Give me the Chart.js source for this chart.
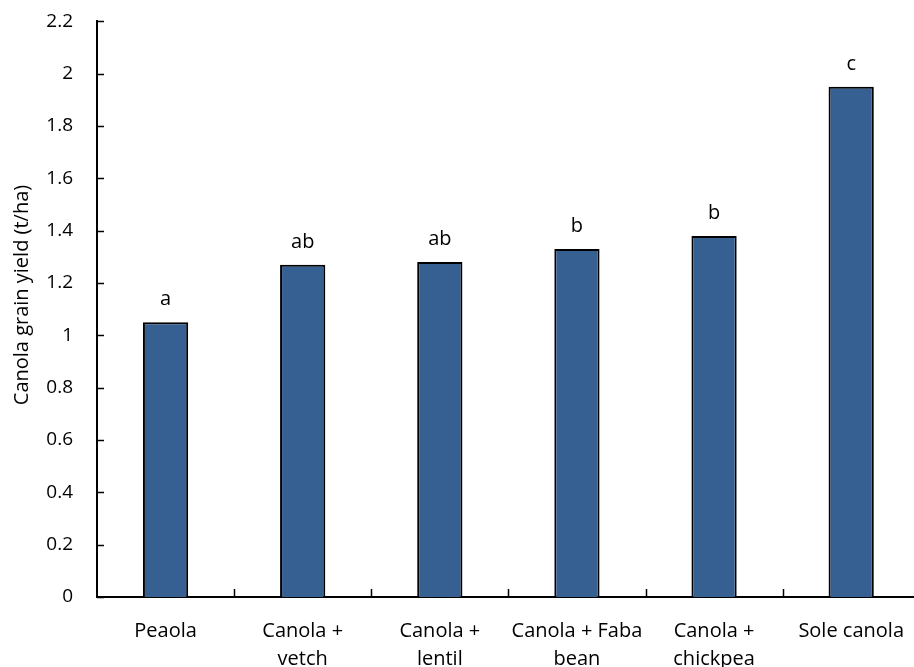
<!DOCTYPE html>
<html>
<head>
<meta charset="utf-8">
<script src="https://cdn.jsdelivr.net/npm/chart.js@4/dist/chart.umd.min.js"></script>
<style>
  html, body { margin: 0; padding: 0; background: #fff; overflow: hidden; }
  #wrap { width: 914px; height: 667px; overflow: hidden; }
  #yieldChart { display: block; margin-top: -14px; }
</style>
</head>
<body>
<div id="wrap"><canvas id="yieldChart" width="924" height="681"></canvas></div>
<script>
// Canola grain yield by treatment
const treatments = [
  "Peaola",
  ["Canola +", "vetch"],
  ["Canola +", "lentil"],
  ["Canola + Faba", "bean"],
  ["Canola +", "chickpea"],
  "Sole canola",
];
const yieldValues = [1.05, 1.27, 1.28, 1.33, 1.38, 1.95];
const significance = ["a", "ab", "ab", "b", "b", "c"];
const yTitle = "Canola grain yield (t/ha)";

const FONT = "'Open Sans', 'Liberation Sans', sans-serif";

// draws tick marks inside the plot, letters over bars and the y title
const extrasPlugin = {
  id: "extras",
  afterDraw(chart) {
    const { ctx, chartArea, scales } = chart;
    const y = scales.y;
    ctx.save();
    ctx.strokeStyle = "#000";
    ctx.lineWidth = 1.5;

    y.ticks.forEach((t) => {
      const py = Math.round(y.getPixelForValue(t.value)) + 0.5;
      ctx.beginPath();
      ctx.moveTo(chartArea.left, py);
      ctx.lineTo(chartArea.left + 7, py);
      ctx.stroke();
    });

    const step = (chartArea.right - chartArea.left) / treatments.length;
    for (let i = 1; i < treatments.length; i++) {
      const px = Math.round(chartArea.left + i * step) + 0.5;
      ctx.beginPath();
      ctx.moveTo(px, chartArea.bottom);
      ctx.lineTo(px, chartArea.bottom - 8);
      ctx.stroke();
    }

    ctx.fillStyle = "#000";
    ctx.font = "20px " + FONT;
    ctx.textAlign = "center";
    ctx.textBaseline = "alphabetic";
    const meta = chart.getDatasetMeta(0);
    meta.data.forEach((bar, i) => {
      ctx.fillText(significance[i], bar.x, bar.y - 17);
    });

    // canvas sits 14px higher than the page, so the title centre is 295 + 14
    ctx.font = "20px " + FONT;
    ctx.translate(22, 309);
    ctx.rotate(-Math.PI / 2);
    ctx.textBaseline = "middle";
    ctx.fillText(yTitle, 0, 0);
    ctx.restore();
  },
};

function createYieldChart() {
  new Chart(document.getElementById("yieldChart"), {
    type: "bar",
    data: {
      labels: treatments,
      datasets: [
        {
          data: yieldValues,
          backgroundColor: "#376092",
          borderColor: "#000",
          borderWidth: 2,
          barPercentage: 0.33,
          categoryPercentage: 1,
        },
      ],
    },
    options: {
      responsive: false,
      animation: false,
      layout: { padding: { top: 21, right: 0, left: 0, bottom: 0 } },
      plugins: {
        legend: { display: false },
        tooltip: { enabled: false },
      },
      scales: {
        x: {
          grid: { display: false, drawTicks: false },
          border: { display: true, color: "#000", width: 2 },
          ticks: {
            color: "#000",
            font: { family: FONT, size: 20, lineHeight: 1.4 },
            padding: 20,
            maxRotation: 0,
            autoSkip: false,
          },
          afterFit: (scale) => {
            scale.height = 70;
          },
        },
        y: {
          min: 0,
          max: 2.2,
          grid: { display: false, drawTicks: false },
          border: { display: true, color: "#000", width: 2 },
          ticks: {
            stepSize: 0.2,
            color: "#000",
            font: { family: FONT, size: 19 },
            padding: 24,
            callback: (value) => String(Number(value.toFixed(1))),
          },
          afterFit: (scale) => {
            scale.width = 97;
          },
        },
      },
    },
    plugins: [extrasPlugin],
  });
}

document.addEventListener("DOMContentLoaded", createYieldChart);
</script>
</body>
</html>
